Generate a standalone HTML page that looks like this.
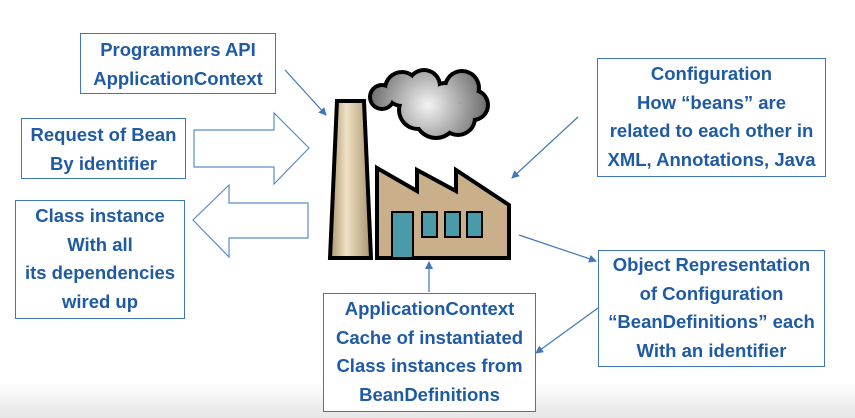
<!DOCTYPE html>
<html><head><meta charset="utf-8"><style>
body{margin:0;width:855px;height:418px;background:#fff;overflow:hidden;position:relative;font-family:"Liberation Sans",Arial,sans-serif}
.b{position:absolute;border:1.5px solid #3f78b8;box-sizing:border-box;color:#1f5aa5;font-weight:bold;font-size:18.5px;text-align:center;line-height:28.5px;background:#fff;white-space:nowrap}
</style></head><body>
<div style="position:absolute;left:0;top:382px;width:855px;height:36px;background:linear-gradient(#fff,#e6e6e6)"></div>
<svg width="855" height="418" style="position:absolute;left:0;top:0">
<defs>
<radialGradient id="g" gradientUnits="userSpaceOnUse" cx="428" cy="105" r="60"><stop offset="0" stop-color="#f4f4f4"/><stop offset="1" stop-color="#6a6a6a"/></radialGradient>
<linearGradient id="ch" x1="0" x2="1"><stop offset="0" stop-color="#a89470"/><stop offset="0.4" stop-color="#f0e2c4"/><stop offset="1" stop-color="#a89470"/></linearGradient>
<marker id="a" markerWidth="8" markerHeight="8" refX="7" refY="4" orient="auto" markerUnits="userSpaceOnUse"><path d="M0,0 L8,4 L0,8 z" fill="#3f78b8"/></marker>
</defs>
<path d="M194,130 H274 V113 L309,148 L274,184 V167 H194 Z" fill="#fff" stroke="#5a8cc8" stroke-width="1.2"/>
<path d="M308,203 H229 V185 L193,220 L229,257 V238 H308 Z" fill="#fff" stroke="#5a8cc8" stroke-width="1.2"/>
<g stroke="#3f78b8" stroke-width="1.2" fill="none">
<line x1="285" y1="70" x2="326" y2="115" marker-end="url(#a)"/>
<line x1="578" y1="117" x2="512" y2="178" marker-end="url(#a)"/>
<line x1="519" y1="235" x2="596" y2="261" marker-end="url(#a)"/>
<line x1="598" y1="308" x2="536" y2="353" marker-end="url(#a)"/>
<line x1="429" y1="292" x2="429" y2="262" marker-end="url(#a)"/>
</g>
<path d="M337,101 H364 L371,258 H330 Z" fill="url(#ch)" stroke="#000" stroke-width="4"/>
<path d="M377,168 L417,191 V170 L456,191 V170 L509,205 V258 H377 Z" fill="#c9b08a" stroke="#000" stroke-width="4"/>
<rect x="392" y="212" width="21" height="46" fill="#4a9aa8" stroke="#000" stroke-width="2"/>
<rect x="422" y="212" width="15" height="25" fill="#4a9aa8" stroke="#000" stroke-width="2"/>
<rect x="445" y="212" width="15" height="25" fill="#4a9aa8" stroke="#000" stroke-width="2"/>
<rect x="467" y="212" width="15" height="25" fill="#4a9aa8" stroke="#000" stroke-width="2"/>
<g fill="#000">
<circle cx="382" cy="97" r="14"/><circle cx="402" cy="89" r="19"/><circle cx="424" cy="86" r="18"/><circle cx="418" cy="110" r="21"/><circle cx="436" cy="117" r="23"/><circle cx="445" cy="100" r="19"/><circle cx="462" cy="88" r="19"/><circle cx="473" cy="105" r="17"/><circle cx="458" cy="118" r="19"/>
</g>
<g fill="url(#g)">
<circle cx="382" cy="97" r="10"/><circle cx="402" cy="89" r="15"/><circle cx="424" cy="86" r="14"/><circle cx="418" cy="110" r="17"/><circle cx="436" cy="117" r="19"/><circle cx="445" cy="100" r="15"/><circle cx="462" cy="88" r="15"/><circle cx="473" cy="105" r="13"/><circle cx="458" cy="118" r="15"/>
</g>
</svg>
<div class="b" style="left:80px;top:33px;width:196px;height:61px;padding-top:2px">Programmers API<br>ApplicationContext</div>
<div class="b" style="left:21px;top:118px;width:165px;height:61px;padding-top:2px">Request of Bean<br>By identifier</div>
<div class="b" style="left:15px;top:200px;width:170px;height:119px;padding-top:1px">Class instance<br>With all<br>its dependencies<br>wired up</div>
<div class="b" style="left:597px;top:58px;width:229px;height:119px;padding-top:1px">Configuration<br>How “beans” are<br>related to each other in<br>XML, Annotations, Java</div>
<div class="b" style="left:598px;top:250px;width:227px;height:117px;padding-top:0px">Object Representation<br>of Configuration<br>“BeanDefinitions” each<br>With an identifier</div>
<div class="b" style="left:323px;top:293px;width:213px;height:119px;padding-top:1px">ApplicationContext<br>Cache of instantiated<br>Class instances from<br>BeanDefinitions</div>
</body></html>
